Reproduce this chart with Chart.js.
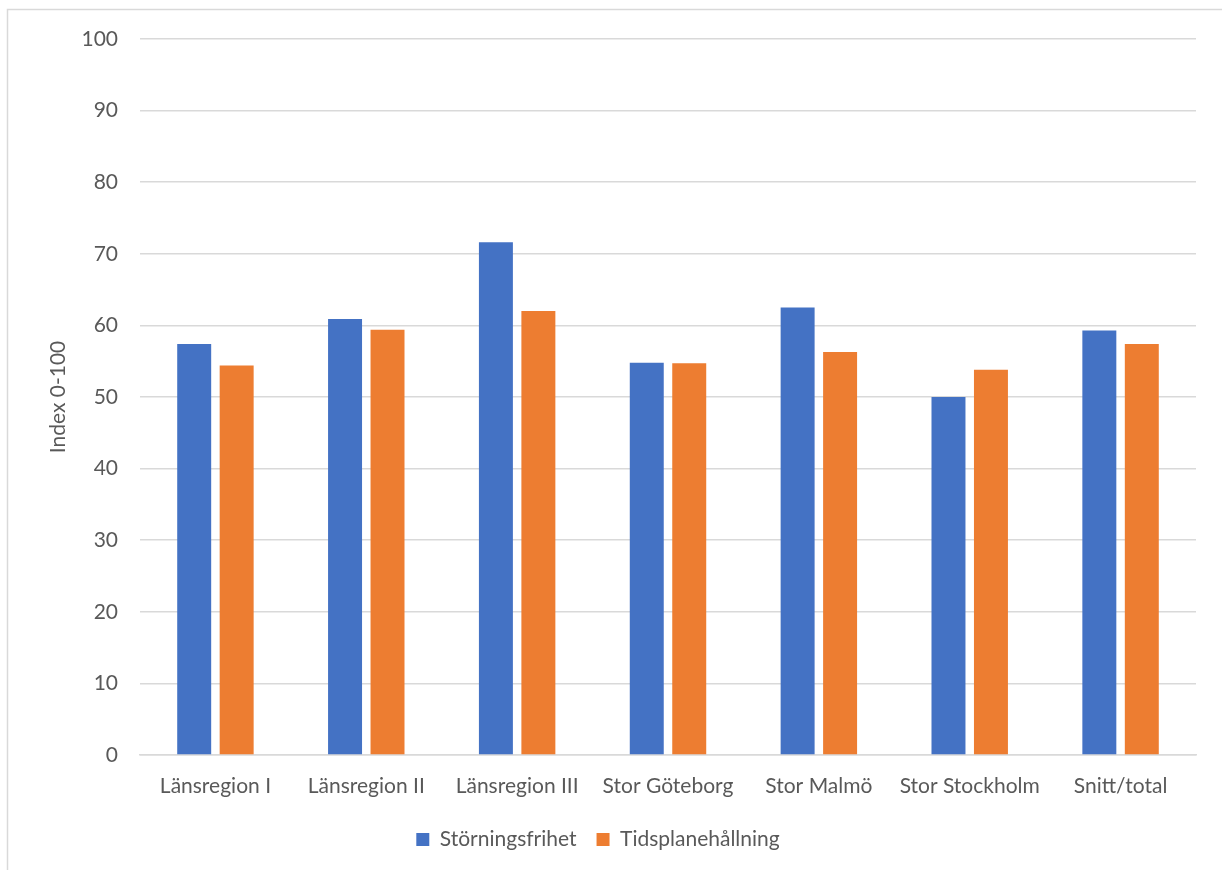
<!DOCTYPE html>
<html><head><meta charset="utf-8">
<script src="https://cdn.jsdelivr.net/npm/chart.js@4.4.1/dist/chart.umd.min.js"></script>
<style>html,body{margin:0;padding:0;background:#fff}#wrap{width:1222px;height:870px;position:relative}</style>
</head><body><div id="wrap"><canvas id="c" width="1222" height="870"></canvas></div>
<script>
const categories = ["Länsregion I","Länsregion II","Länsregion III","Stor Göteborg","Stor Malmö","Stor Stockholm","Snitt/total"];
const storningsfrihet = [57.4, 60.9, 71.6, 54.8, 62.5, 50.0, 59.3];
const tidsplanehallning = [54.4, 59.4, 62.0, 54.7, 56.3, 53.8, 57.4];
const seriesNames = ["Störningsfrihet","Tidsplanehållning"];
const yTitle = "Index 0-100";

const frame = {id:'frame', beforeDraw(ch){const c=ch.ctx;c.save();c.strokeStyle='#d9d9d9';c.lineWidth=1.5;c.beginPath();c.moveTo(7.5,880);c.lineTo(7.5,9.5);c.lineTo(1230,9.5);c.stroke();c.restore();}};
const FONT = "Lato, 'Open Sans', sans-serif";
new Chart(document.getElementById('c'), {
  type:'bar',
  data:{labels:categories, datasets:[
    {label:seriesNames[0], data:storningsfrihet, backgroundColor:'#4472c4', categoryPercentage:0.563, barPercentage:0.8},
    {label:seriesNames[1], data:tidsplanehallning, backgroundColor:'#ed7d31', categoryPercentage:0.563, barPercentage:0.8}
  ]},
  options:{
    responsive:false, animation:false, devicePixelRatio:1,
    layout:{padding:{top:39,right:26,bottom:10,left:0}},
    plugins:{
      legend:{position:'bottom', labels:{boxWidth:13, boxHeight:13, padding:20, color:'#595959', font:{family:FONT,size:21}}},
      tooltip:{enabled:false}
    },
    scales:{
      x:{grid:{display:false, drawTicks:false}, border:{display:true,color:'#d9d9d9',width:1.5},
         ticks:{color:'#595959', font:{family:FONT,size:21}, padding:19, maxRotation:0},
         afterFit(s){s.height=54;}},
      y:{min:0,max:100, ticks:{stepSize:10,color:'#595959',font:{family:FONT,size:21},padding:22},
         grid:{color:'#d9d9d9',lineWidth:1.5,drawTicks:false}, border:{display:false},
         title:{display:true,text:yTitle,color:'#595959',font:{family:FONT,size:21},padding:{top:46}},
         afterFit(s){s.width=140;}}
    }
  },
  plugins:[frame]
});
</script></body></html>
